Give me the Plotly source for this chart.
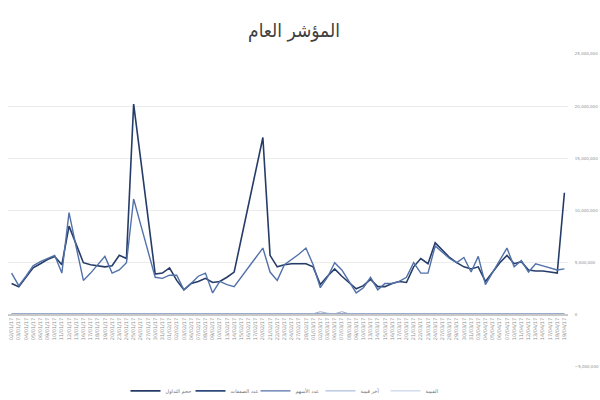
import plotly.graph_objects as go
import pandas as pd

dates = [d.strftime("%d/%m/%y") for d in pd.bdate_range("2017-01-01", periods=78)]

# values in millions
trading_value = [3.0, 2.7, 3.6, 4.5, 4.9, 5.3, 5.6, 4.8, 8.5, 6.8,
                 5.0, 4.8, 4.7, 4.6, 4.7, 5.7, 5.4, 20.2, 14.8, 9.4,
                 3.9, 4.0, 4.5, 3.3, 2.4, 3.0, 3.2, 3.5, 3.1, 3.2,
                 3.6, 4.1, 7.3, 10.6, 13.8, 17.0, 5.7, 4.6, 4.8, 4.9,
                 4.9, 4.9, 4.6, 2.9, 3.7, 4.4, 3.7, 3.1, 2.5, 2.8,
                 3.4, 2.7, 2.7, 3.0, 3.2, 3.1, 4.6, 5.4, 4.9, 6.9,
                 6.2, 5.5, 5.0, 4.6, 4.4, 4.6, 3.2, 4.1, 5.0, 5.7,
                 4.9, 5.1, 4.3, 4.2, 4.2, 4.1, 4.0, 11.7]

shares_count = [4.0, 2.8, 3.7, 4.7, 5.1, 5.4, 5.7, 4.0, 9.8, 6.5,
                3.3, 4.0, 4.8, 5.6, 4.0, 4.3, 5.0, 11.1, 8.6, 6.2,
                3.6, 3.5, 3.8, 3.8, 2.4, 3.0, 3.7, 4.0, 2.1, 3.2,
                2.9, 2.7, 3.6, 4.6, 5.5, 6.4, 4.1, 3.3, 4.8, 5.3,
                5.8, 6.4, 4.8, 2.6, 3.6, 5.0, 4.3, 3.2, 2.1, 2.6,
                3.6, 2.4, 3.0, 3.0, 3.2, 3.6, 5.0, 4.0, 4.0, 6.6,
                6.0, 5.4, 5.0, 5.5, 4.1, 5.6, 2.9, 4.1, 5.2, 6.4,
                4.6, 5.2, 4.1, 4.9, 4.7, 4.5, 4.3, 4.4]

small_a = [0.05] * 78
small_b = [0.1] * 43 + [0.3, 0.15, 0.1, 0.3] + [0.1] * 31
small_c = [0.02] * 78

names = ["حجم التداول", "عدد الصفقات", "عدد الأسهم", "آخر قيمة", "القيمة"]
series = [trading_value, small_a, shares_count, small_b, small_c]
colors = ["#263c68", "#2f4a7c", "#5271a8", "#9aaed2", "#bccae2"]
widths = [1.6, 1.6, 1.4, 1.0, 1.0]

fig = go.Figure()
for n, s, c, w in zip(names, series, colors, widths):
    fig.add_trace(go.Scatter(x=dates, y=[v * 1e6 for v in s], mode="lines",
                             name=n, line=dict(color=c, width=w)))

fig.update_layout(
    width=600, height=400,
    paper_bgcolor="white", plot_bgcolor="white",
    margin=dict(l=8, r=32, t=54, b=33, autoexpand=False),
    title=dict(text="المؤشر العام", x=0.49, xanchor="center", y=0.925, yanchor="middle",
               font=dict(family="Liberation Sans Narrow, DejaVu Sans Condensed", size=19, color="#404040")),
    font=dict(family="DejaVu Sans", color="#808080"),
    showlegend=True,
    legend=dict(orientation="h", x=0.5, xanchor="center", y=-0.03, yanchor="top",
                font=dict(size=5, color="#707070"), itemwidth=30,
                entrywidth=20, tracegroupgap=0),
    xaxis=dict(type="category", range=[-0.5, 77.5], anchor="free", position=1/6,
               showgrid=False, showline=True, linecolor="#c8c8c8", linewidth=2,
               tickangle=-90, tickfont=dict(size=5, color="#909090"), ticks=""),
    yaxis=dict(side="right", range=[-5e6, 25e6], dtick=5e6, tickformat=",d",
               showgrid=True, gridcolor="#ececec", gridwidth=1, zeroline=False,
               ticks="outside", ticklen=5, tickcolor="white",
               tickfont=dict(size=4, color="#909090")),
)

fig.write_html("out.html", config={"displayModeBar": False},
               post_script="document.body.style.margin='0';")
